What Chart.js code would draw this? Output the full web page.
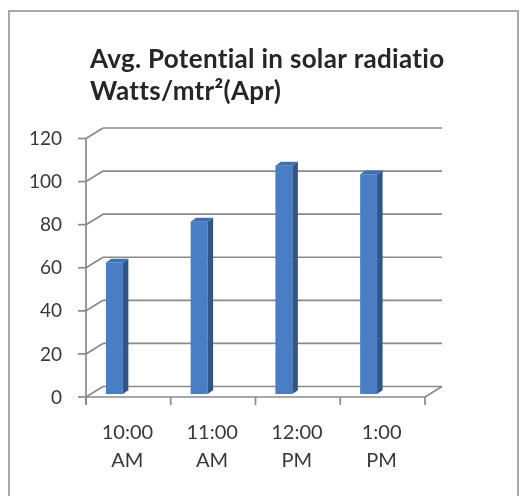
<!DOCTYPE html>
<html>
<head>
<meta charset="utf-8">
<script src="https://cdn.jsdelivr.net/npm/chart.js@4"></script>
<style>
  html, body { margin: 0; padding: 0; background: #ffffff; }
  canvas { display: block; }
</style>
</head>
<body>
<canvas id="chart" width="530" height="496"></canvas>
<script>
// Time slots (two-line labels) and average radiation values
const categories = [["10:00", "AM"], ["11:00", "AM"], ["12:00", "PM"], ["1:00", "PM"]];
const radiation = [61, 80, 106, 102];
const yMin = 0;
const yMax = 120;
const yStep = 20;
const titleLines = ["Avg. Potential in solar radiatio", "Watts/mtr²(Apr)"];

// Pseudo-3D geometry: offsets of the front axis plane and the back wall
// relative to the plane the bars are drawn in.
const FRONT = { dx: 14, dy: 3 };
const BACK = { dx: 31, dy: -7.5 };
const BAR_DEPTH = { dx: 5.5, dy: 3.8 };
const TICK_LEN = 8;
const GRID_COLOR = '#8a8a8a';
const TEXT_COLOR = '#383838';

const wallsAndAxes = {
  id: 'wallsAndAxes',
  beforeDatasetsDraw(chart) {
    const { ctx, chartArea: a, scales: { x, y } } = chart;
    ctx.save();
    ctx.strokeStyle = GRID_COLOR;
    ctx.lineWidth = 1.7;
    ctx.lineCap = 'butt';
    const line = (x1, y1, x2, y2) => {
      ctx.beginPath(); ctx.moveTo(x1, y1); ctx.lineTo(x2, y2); ctx.stroke();
    };
    // back wall gridlines + side-wall diagonals + front tick marks
    y.ticks.forEach(t => {
      const py = y.getPixelForValue(t.value);
      const yb = py + BACK.dy, yf = py + FRONT.dy;
      line(a.left + BACK.dx, yb, a.right + BACK.dx, yb);
      line(a.left + FRONT.dx, yf, a.left + BACK.dx, yb);
      line(a.left + FRONT.dx - TICK_LEN, yf, a.left + FRONT.dx, yf);
    });
    const y0 = y.getPixelForValue(yMin);
    const yTop = y.getPixelForValue(yMax);
    // front vertical axis
    line(a.left + FRONT.dx, yTop + FRONT.dy, a.left + FRONT.dx, y0 + FRONT.dy + TICK_LEN);
    // front floor edge and right floor edge
    line(a.left + FRONT.dx, y0 + FRONT.dy, a.right + FRONT.dx, y0 + FRONT.dy);
    line(a.right + FRONT.dx, y0 + FRONT.dy, a.right + BACK.dx, y0 + BACK.dy);
    // category dividers on the front floor edge
    for (let i = 0; i <= categories.length; i++) {
      const px = x.getPixelForValue(i - 0.5) + FRONT.dx;
      line(px, y0 + FRONT.dy, px, y0 + FRONT.dy + TICK_LEN);
    }
    ctx.restore();
  },
  afterDatasetsDraw(chart) {
    const { ctx } = chart;
    const meta = chart.getDatasetMeta(0);
    ctx.save();
    meta.data.forEach(bar => {
      const { x, y, base, width } = bar.getProps(['x', 'y', 'base', 'width'], true);
      const l = x - width / 2, r = x + width / 2;
      const dx = BAR_DEPTH.dx, dy = BAR_DEPTH.dy;
      // side face
      ctx.fillStyle = '#2f5589';
      ctx.beginPath();
      ctx.moveTo(r, y); ctx.lineTo(r + dx, y - dy);
      ctx.lineTo(r + dx, base - dy); ctx.lineTo(r, base);
      ctx.closePath(); ctx.fill();
      // top face
      ctx.fillStyle = '#3f6fae';
      ctx.beginPath();
      ctx.moveTo(l, y); ctx.lineTo(l + dx, y - dy);
      ctx.lineTo(r + dx, y - dy); ctx.lineTo(r, y);
      ctx.closePath(); ctx.fill();
    });
    ctx.restore();
  },
  afterDraw(chart) {
    const { ctx } = chart;
    ctx.save();
    // outer frame
    ctx.strokeStyle = '#a9a9a9';
    ctx.lineWidth = 2;
    ctx.strokeRect(9, 11, 509, 490);
    // two-line title
    ctx.fillStyle = '#262626';
    ctx.font = 'bold 26px Lato';
    if ('letterSpacing' in ctx) ctx.letterSpacing = '0.3px';
    ctx.textBaseline = 'alphabetic';
    ctx.textAlign = 'left';
    ctx.fillText(titleLines[0], 90, 68);
    ctx.fillText(titleLines[1], 90, 100);
    ctx.restore();
  }
};

// front face shading: lighter on the left edge
function frontFill(context) {
  const el = context.element;
  const c = context.chart.ctx;
  if (!el || !isFinite(el.x) || !isFinite(el.width)) return '#4a7ec4';
  const g = c.createLinearGradient(el.x - el.width / 2, 0, el.x + el.width / 2, 0);
  g.addColorStop(0, '#5d92d6');
  g.addColorStop(0.5, '#4b7fc3');
  g.addColorStop(1, '#416fb0');
  return g;
}

new Chart(document.getElementById('chart'), {
  type: 'bar',
  data: {
    labels: categories,
    datasets: [{
      data: radiation,
      backgroundColor: frontFill,
      borderWidth: 0,
      categoryPercentage: 1,
      barPercentage: 0.2
    }]
  },
  options: {
    responsive: false,
    animation: false,
    events: [],
    layout: { padding: { top: 135.5, right: 119, bottom: 0, left: 0 } },
    plugins: {
      legend: { display: false },
      title: { display: false },
      tooltip: { enabled: false }
    },
    scales: {
      x: {
        grid: { display: false, drawTicks: false },
        border: { display: false },
        ticks: {
          color: TEXT_COLOR,
          font: { family: 'Lato', size: 20, lineHeight: 1.4 },
          padding: 25,
          labelOffset: 13,
          maxRotation: 0,
          autoSkip: false
        },
        afterFit(s) { s.height = 102; }
      },
      y: {
        min: yMin,
        max: yMax,
        grid: { display: false, drawTicks: false },
        border: { display: false },
        ticks: {
          stepSize: yStep,
          color: TEXT_COLOR,
          font: { family: 'Lato', size: 19 },
          padding: 10,
          labelOffset: 3.5
        },
        afterFit(s) { s.width = 72; }
      }
    }
  },
  plugins: [wallsAndAxes]
});
</script>
</body>
</html>
